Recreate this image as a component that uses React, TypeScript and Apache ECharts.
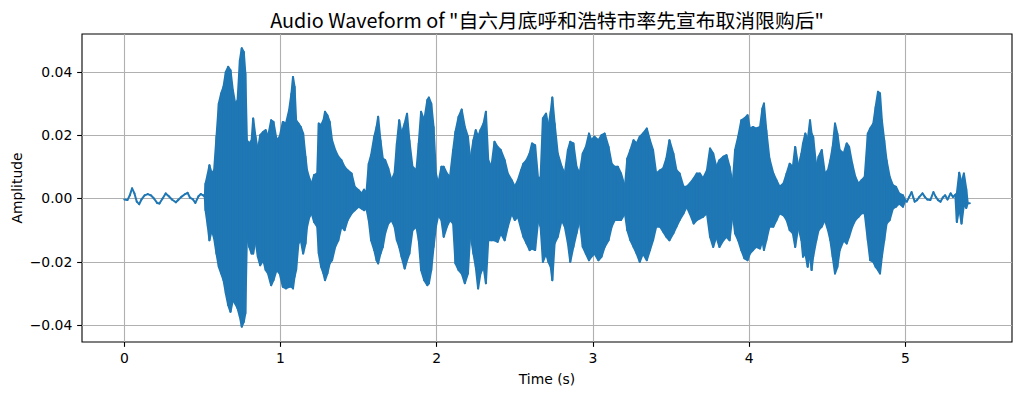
import React, { useEffect, useRef } from 'react';
import * as echarts from 'echarts';

const TITLE = 'Audio Waveform of "自六月底呼和浩特市率先宣布取消限购后"';
const X_LABEL = 'Time (s)';
const Y_LABEL = 'Amplitude';
const X_TICKS = [0, 1, 2, 3, 4, 5];
const Y_TICKS = [-0.04, -0.02, 0, 0.02, 0.04];
const X_RANGE = [-0.2708, 5.683];
const Y_RANGE = [-0.04534, 0.05197];
const WAVE_COLOR = '#1f77b4';

// Leading near-silence: [time (s), amplitude]
const LEAD_IN: number[][] = [
  [0.0, -0.0003], [0.02, -0.0005], [0.035, 0.001], [0.05, 0.0032], [0.065, 0.0016],
  [0.08, -0.001], [0.095, -0.0018], [0.11, -0.0003], [0.13, 0.001], [0.15, 0.0014],
  [0.17, 0.001], [0.19, 0.0], [0.21, -0.0014], [0.225, -0.0016], [0.245, 0.0],
  [0.265, 0.0016], [0.285, 0.0007], [0.305, -0.0003], [0.33, -0.0012], [0.345, -0.0005],
  [0.365, 0.0005], [0.39, 0.0014], [0.405, 0.0018], [0.42, 0.0003], [0.44, -0.0003],
  [0.455, -0.0014], [0.475, 0.0007], [0.49, 0.0014], [0.505, 0.001], [0.515, 0.0005],
];

// Speech part, envelope: [time (s), upper, lower]
const SPEECH: number[][] = [
  [0.52, 0.0047, -0.0037], [0.535, 0.0079, -0.009], [0.545, 0.0105, -0.0132], [0.56, 0.0079, -0.01],
  [0.575, 0.009, -0.0126], [0.59, 0.0195, -0.0174], [0.605, 0.03, -0.0216], [0.62, 0.0332, -0.0237],
  [0.635, 0.0353, -0.0258], [0.65, 0.04, -0.03], [0.665, 0.0416, -0.0337], [0.68, 0.0405, -0.0358],
  [0.695, 0.0342, -0.0321], [0.71, 0.03, -0.0332], [0.725, 0.031, -0.0347], [0.74, 0.0437, -0.0374],
  [0.752, 0.0475, -0.0405], [0.765, 0.0463, -0.039], [0.775, 0.0395, -0.0363], [0.785, 0.0184, -0.0121],
  [0.8, 0.0174, -0.0153], [0.815, 0.0184, -0.0174], [0.825, 0.0253, -0.0174], [0.84, 0.0195, -0.0132],
  [0.855, 0.0153, -0.0184], [0.87, 0.02, -0.0211], [0.89, 0.0211, -0.0195], [0.905, 0.0216, -0.0226],
  [0.92, 0.0195, -0.0237], [0.94, 0.0247, -0.0274], [0.955, 0.0242, -0.0258], [0.975, 0.0184, -0.0226],
  [0.995, 0.0195, -0.0237], [1.015, 0.0242, -0.0279], [1.035, 0.0237, -0.0284], [1.055, 0.0279, -0.0279],
  [1.07, 0.0332, -0.0279], [1.08, 0.0384, -0.0284], [1.09, 0.0353, -0.0247], [1.1, 0.0247, -0.0226],
  [1.115, 0.0237, -0.0142], [1.13, 0.0226, -0.0132], [1.145, 0.0205, -0.0174], [1.16, 0.0132, -0.0142],
  [1.17, 0.0089, -0.0089], [1.185, 0.0063, -0.0058], [1.2, 0.0047, -0.0047], [1.215, 0.0074, -0.0074],
  [1.235, 0.0079, -0.0089], [1.245, 0.0237, -0.0174], [1.26, 0.0232, -0.0216], [1.275, 0.0247, -0.0237],
  [1.285, 0.0274, -0.0258], [1.3, 0.0263, -0.0237], [1.315, 0.0242, -0.0205], [1.33, 0.0184, -0.0195],
  [1.35, 0.0153, -0.0153], [1.37, 0.0132, -0.0132], [1.39, 0.0121, -0.0089], [1.41, 0.01, -0.01],
  [1.43, 0.0089, -0.0068], [1.455, 0.0079, -0.0047], [1.475, 0.0037, -0.0037], [1.5, 0.0026, -0.0026],
  [1.52, 0.0016, -0.0032], [1.535, 0.0028, -0.0037], [1.55, 0.0018, -0.0032], [1.565, 0.011, -0.0068],
  [1.58, 0.0137, -0.0132], [1.6, 0.0195, -0.0163], [1.615, 0.0226, -0.0195], [1.625, 0.0258, -0.0205],
  [1.64, 0.0184, -0.0174], [1.655, 0.0126, -0.0153], [1.67, 0.0121, -0.011], [1.69, 0.0095, -0.0079],
  [1.71, 0.0058, -0.0068], [1.73, 0.0079, -0.0089], [1.745, 0.0174, -0.0132], [1.76, 0.0247, -0.0153],
  [1.775, 0.0205, -0.0184], [1.795, 0.0237, -0.0221], [1.81, 0.0268, -0.0195], [1.825, 0.0184, -0.0174],
  [1.845, 0.01, -0.01], [1.87, 0.0089, -0.0089], [1.885, 0.0174, -0.0132], [1.9, 0.0274, -0.0226],
  [1.92, 0.0247, -0.0258], [1.94, 0.0311, -0.0274], [1.95, 0.0319, -0.0268], [1.965, 0.03, -0.0226],
  [1.98, 0.0226, -0.0153], [1.995, 0.0079, -0.0089], [2.01, 0.0047, -0.0053], [2.03, 0.01, -0.0068],
  [2.045, 0.01, -0.0121], [2.065, 0.0079, -0.0089], [2.085, 0.0068, -0.0068], [2.105, 0.0153, -0.0079],
  [2.12, 0.0211, -0.0205], [2.14, 0.0258, -0.0226], [2.16, 0.0281, -0.0237], [2.18, 0.0226, -0.0268],
  [2.2, 0.0195, -0.0237], [2.215, 0.0121, -0.011], [2.235, 0.0184, -0.0174], [2.25, 0.0216, -0.0216],
  [2.265, 0.0195, -0.0284], [2.28, 0.0216, -0.0237], [2.3, 0.0237, -0.0216], [2.315, 0.0274, -0.0268],
  [2.33, 0.0121, -0.0132], [2.35, 0.01, -0.0132], [2.37, 0.0179, -0.0132], [2.39, 0.0163, -0.0137],
  [2.41, 0.0153, -0.011], [2.435, 0.0121, -0.0132], [2.455, 0.0079, -0.0089], [2.48, 0.0058, -0.0047],
  [2.5, 0.0037, -0.0068], [2.52, 0.0058, -0.0058], [2.54, 0.0089, -0.0095], [2.555, 0.011, -0.0121],
  [2.575, 0.0121, -0.0142], [2.595, 0.0142, -0.0163], [2.61, 0.0174, -0.0158], [2.63, 0.0168, -0.0163],
  [2.65, 0.0058, -0.0068], [2.665, 0.0068, -0.0089], [2.68, 0.0253, -0.02], [2.7, 0.0268, -0.0174],
  [2.715, 0.0226, -0.02], [2.73, 0.0274, -0.0216], [2.74, 0.0319, -0.0258], [2.755, 0.0237, -0.0142],
  [2.775, 0.0142, -0.0121], [2.8, 0.01, -0.0068], [2.82, 0.0079, -0.0089], [2.84, 0.0153, -0.0142],
  [2.855, 0.0179, -0.02], [2.875, 0.0174, -0.0153], [2.895, 0.01, -0.011], [2.915, 0.0079, -0.0068],
  [2.935, 0.0142, -0.0153], [2.955, 0.0163, -0.0174], [2.975, 0.0205, -0.0195], [2.99, 0.0184, -0.0184],
  [3.01, 0.0195, -0.0174], [3.035, 0.0184, -0.0195], [3.055, 0.02, -0.0184], [3.075, 0.0205, -0.0153],
  [3.1, 0.0163, -0.0132], [3.12, 0.011, -0.0089], [3.14, 0.01, -0.0068], [3.16, 0.01, -0.0068],
  [3.18, 0.0079, -0.0068], [3.205, 0.0037, -0.0047], [3.22, 0.0126, -0.01], [3.24, 0.0153, -0.0132],
  [3.26, 0.0184, -0.0153], [3.28, 0.0174, -0.0174], [3.3, 0.0195, -0.02], [3.32, 0.0205, -0.0174],
  [3.345, 0.0221, -0.0195], [3.365, 0.0184, -0.0163], [3.385, 0.0153, -0.0132], [3.405, 0.0079, -0.0089],
  [3.43, 0.0089, -0.0089], [3.45, 0.0095, -0.0105], [3.47, 0.0126, -0.0121], [3.49, 0.0184, -0.0132],
  [3.515, 0.0142, -0.011], [3.535, 0.0089, -0.0089], [3.555, 0.0079, -0.0068], [3.58, 0.0037, -0.0047],
  [3.6, 0.0037, -0.0026], [3.62, 0.0047, -0.0047], [3.645, 0.0063, -0.0079], [3.665, 0.0079, -0.0068],
  [3.685, 0.0079, -0.0063], [3.705, 0.0063, -0.0058], [3.73, 0.0089, -0.0047], [3.75, 0.0158, -0.0121],
  [3.77, 0.0142, -0.0153], [3.79, 0.01, -0.0121], [3.81, 0.0121, -0.0153], [3.835, 0.0132, -0.0132],
  [3.855, 0.0137, -0.0121], [3.875, 0.01, -0.0132], [3.895, 0.0047, -0.0047], [3.91, 0.0153, -0.011],
  [3.93, 0.0195, -0.0132], [3.95, 0.0247, -0.0163], [3.97, 0.0253, -0.0189], [3.99, 0.0263, -0.0195],
  [4.005, 0.0221, -0.0174], [4.025, 0.0226, -0.0163], [4.045, 0.0221, -0.0153], [4.07, 0.0226, -0.0158],
  [4.085, 0.0284, -0.0132], [4.095, 0.03, -0.0163], [4.11, 0.0216, -0.0132], [4.13, 0.0126, -0.0089],
  [4.155, 0.0079, -0.0089], [4.175, 0.0058, -0.0068], [4.195, 0.0037, -0.0047], [4.22, 0.0047, -0.0053],
  [4.24, 0.0079, -0.0068], [4.26, 0.011, -0.01], [4.28, 0.01, -0.011], [4.295, 0.0163, -0.0153],
  [4.315, 0.01, -0.0089], [4.335, 0.0142, -0.0132], [4.345, 0.0174, -0.0184], [4.36, 0.0205, -0.0174],
  [4.375, 0.0184, -0.0216], [4.39, 0.0247, -0.0174], [4.4, 0.0205, -0.0226], [4.41, 0.0195, -0.0184],
  [4.43, 0.01, -0.0132], [4.445, 0.0132, -0.01], [4.465, 0.0153, -0.0089], [4.485, 0.0079, -0.0068],
  [4.505, 0.0089, -0.01], [4.52, 0.0121, -0.0132], [4.535, 0.0163, -0.0184], [4.55, 0.0237, -0.0237],
  [4.565, 0.0205, -0.0216], [4.58, 0.0153, -0.0163], [4.605, 0.0142, -0.0132], [4.625, 0.0174, -0.0142],
  [4.64, 0.0163, -0.0121], [4.66, 0.011, -0.0089], [4.68, 0.0068, -0.0068], [4.7, 0.0047, -0.0058],
  [4.72, 0.0058, -0.0047], [4.74, 0.0068, -0.0047], [4.76, 0.0205, -0.0132], [4.775, 0.0221, -0.0195],
  [4.795, 0.0237, -0.02], [4.81, 0.0289, -0.0216], [4.825, 0.0337, -0.0226], [4.838, 0.0332, -0.0237],
  [4.85, 0.0247, -0.0184], [4.865, 0.0184, -0.0132], [4.88, 0.0121, -0.0079], [4.9, 0.0068, -0.0068],
  [4.92, 0.0042, -0.0032], [4.94, 0.0037, -0.0026], [4.96, 0.0016, -0.0016], [4.985, 0.001, -0.0026],
];

// Trailing near-silence: [time (s), amplitude]
const TAIL_SILENCE: number[][] = [
  [5.0, -0.0005], [5.01, -0.001], [5.025, 0.0005], [5.04, 0.002], [5.05, 0.0005],
  [5.06, -0.001], [5.075, -0.0005], [5.09, 0.0005], [5.11, 0.0016], [5.125, 0.0005],
  [5.14, -0.0003], [5.16, -0.0005], [5.18, 0.002], [5.195, 0.0005], [5.21, -0.0005],
  [5.225, -0.001], [5.24, 0.0003], [5.255, 0.001], [5.27, -0.0003], [5.29, 0.0016],
  [5.305, 0.0005], [5.32, 0.0012],
];

// Final clicks: [time (s), upper, lower]
const TAIL_CLICKS: number[][] = [
  [5.33, 0.0016, -0.0074], [5.345, 0.0081, -0.003], [5.36, 0.005, -0.0079],
  [5.375, 0.0079, -0.002], [5.39, 0.003, -0.003], [5.4, -0.0015, -0.0015], [5.413, -0.0015, -0.0015],
];

const ROWS: number[][] = [
  ...LEAD_IN.map(([t, v]) => [t, v, v]),
  ...SPEECH,
  ...TAIL_SILENCE.map(([t, v]) => [t, v, v]),
  ...TAIL_CLICKS,
];

const TICK_FONT = 'DejaVu Sans';

function fmtY(v: number): string {
  const s = Math.abs(v).toFixed(2);
  return v < -1e-9 ? '\u2212' + s : s;
}

export default function App() {
  const ref = useRef<HTMLDivElement>(null);
  useEffect(() => {
    document.body.style.margin = '0';
    const chart = echarts.init(ref.current!, null, { renderer: 'svg' });
    const option: any = {
      animation: false,
      backgroundColor: '#ffffff',
      grid: {
        left: 82, top: 34, width: 930, height: 308,
        show: true, borderColor: '#000000', borderWidth: 1.1, backgroundColor: 'transparent',
        containLabel: false,
      },
      xAxis: {
        type: 'value',
        min: X_RANGE[0], max: X_RANGE[1],
        splitNumber: 6,
        axisLine: { show: false, onZero: false },
        axisTick: { show: true, length: 4.86, inside: false, customValues: X_TICKS, lineStyle: { color: '#000', width: 1.1 } },
        axisLabel: {
          customValues: X_TICKS, margin: 8.5, color: '#000', fontSize: 13.9, fontFamily: TICK_FONT,
          formatter: (v: number) => String(Math.round(v)),
        },
        splitLine: { show: true, lineStyle: { color: '#b0b0b0', width: 1.1 } },
      },
      yAxis: {
        type: 'value',
        min: Y_RANGE[0], max: Y_RANGE[1],
        splitNumber: 5,
        axisLine: { show: false, onZero: false },
        axisTick: { show: true, length: 4.86, inside: false, customValues: Y_TICKS, lineStyle: { color: '#000', width: 1.1 } },
        axisLabel: {
          customValues: Y_TICKS, margin: 9.7, color: '#000', fontSize: 13.9, fontFamily: TICK_FONT,
          formatter: (v: number) => fmtY(v),
        },
        splitLine: { show: true, lineStyle: { color: '#b0b0b0', width: 1.1 } },
      },
      graphic: [
        {
          type: 'text', x: 547, y: 19.5,
          style: {
            text: TITLE, fill: '#000', fontSize: 19.8, fontFamily: 'Noto Sans CJK SC',
            align: 'center', verticalAlign: 'middle', textAlign: 'center', textVerticalAlign: 'middle',
          },
        },
        {
          type: 'text', x: 547, y: 379,
          style: {
            text: X_LABEL, fill: '#000', fontSize: 13.9, fontFamily: TICK_FONT,
            align: 'center', verticalAlign: 'middle', textAlign: 'center', textVerticalAlign: 'middle',
          },
        },
        {
          type: 'text', x: 16.5, y: 188, rotation: Math.PI / 2,
          style: {
            text: Y_LABEL, fill: '#000', fontSize: 13.9, fontFamily: TICK_FONT,
            align: 'center', verticalAlign: 'middle', textAlign: 'center', textVerticalAlign: 'middle',
          },
        },
      ],
      series: [
        {
          type: 'custom',
          clip: true,
          data: ROWS,
          encode: { x: 0, y: [1, 2] },
          renderItem: (params: any, api: any) => {
            const i = params.dataIndex;
            if (i >= ROWS.length - 1) return { type: 'group', children: [] };
            const a = ROWS[i];
            const b = ROWS[i + 1];
            const p1 = api.coord([a[0], a[1]]);
            const p2 = api.coord([b[0], b[1]]);
            const p3 = api.coord([b[0], b[2]]);
            const p4 = api.coord([a[0], a[2]]);
            return {
              type: 'polygon',
              shape: { points: [p1, p2, p3, p4] },
              style: { fill: WAVE_COLOR, stroke: WAVE_COLOR, lineWidth: 2, lineJoin: 'round' },
            };
          },
        },
      ],
    };
    chart.setOption(option);
    return () => chart.dispose();
  }, []);
  return <div ref={ref} style={{ width: 1021, height: 395 }} />;
}
